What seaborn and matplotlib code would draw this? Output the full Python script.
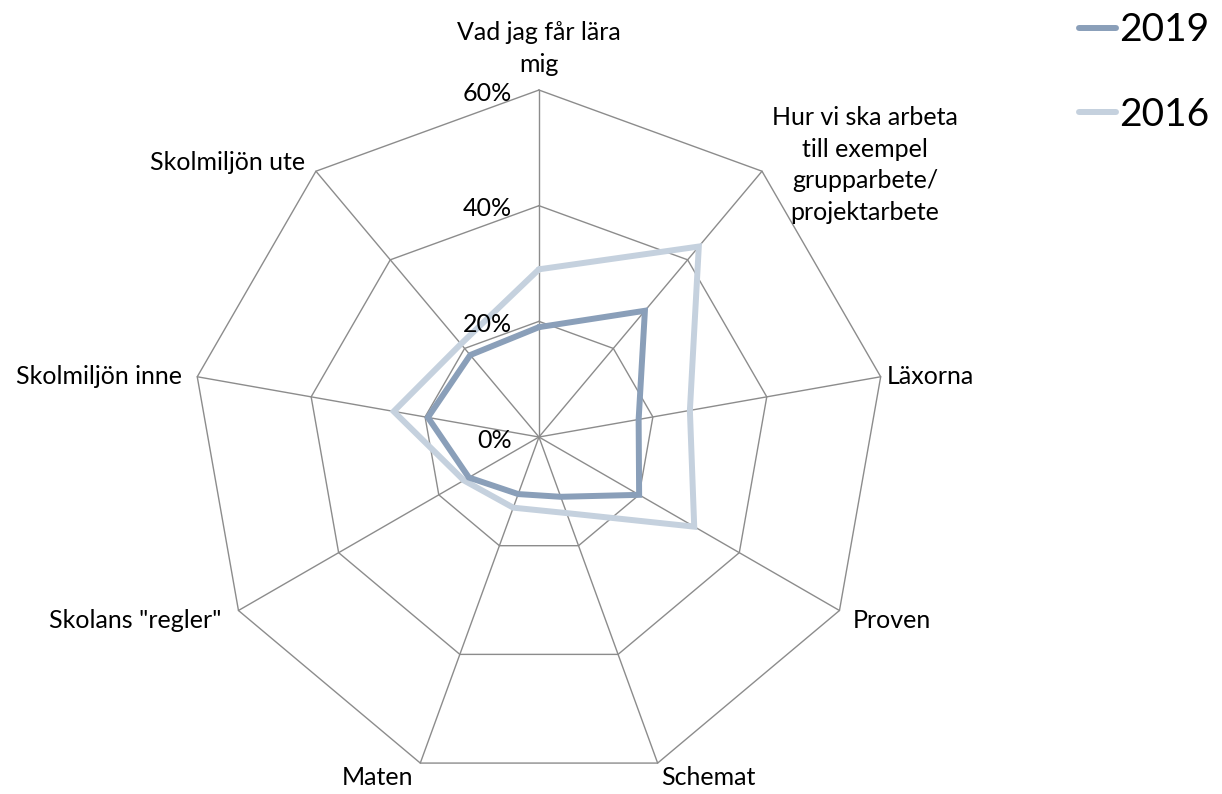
import numpy as np
import pandas as pd
import matplotlib
matplotlib.use("Agg")
import matplotlib.pyplot as plt
import seaborn as sns
from matplotlib.lines import Line2D

# chart data
categories = [
    "Vad jag får lära\nmig",
    "Hur vi ska arbeta\ntill exempel\ngrupparbete/\nprojektarbete",
    "Läxorna",
    "Proven",
    "Schemat",
    "Maten",
    'Skolans "regler"',
    "Skolmiljön inne",
    "Skolmiljön ute",
]
values_2019 = [19, 28.5, 17.5, 20, 11, 10.5, 14, 19.5, 18.5]
values_2016 = [29, 43, 26.5, 31, 14, 13, 15, 25.5, 21]
series_names = ["2019", "2016"]
ring_ticks = [0, 20, 40, 60]

# styling / layout
colors = {"2019": "#8a9fb9", "2016": "#c5d1de"}
grid_color = "#8c8c8c"
label_offsets = [
    ((0, 14), "center", "bottom"),
    ((10, 6), "left", "center"),
    ((6, 0), "left", "center"),
    ((13, -10), "left", "center"),
    ((4, -3), "left", "top"),
    ((-7, -3), "right", "top"),
    ((-17, -10), "right", "center"),
    ((-15, 0), "right", "center"),
    ((-11, 9), "right", "center"),
]

sns.set_theme(style="white")
plt.rcParams["font.family"] = ["Lato", "DejaVu Sans"]

n = len(categories)
theta = np.arange(n) * 2 * np.pi / n
rmax = ring_ticks[-1]


def to_xy(r):
    r = np.asarray(r, dtype=float)
    return r * np.sin(theta), r * np.cos(theta)


fig = plt.figure(figsize=(12.22, 7.94), dpi=100)
ax = fig.add_axes([0.1571, 0.0126, 0.5679, 0.874])
ax.set_xlim(-rmax, rmax)
ax.set_ylim(-rmax, rmax)
ax.axis("off")

# polygon rings and spokes
for t in ring_ticks[1:]:
    x, y = to_xy([t] * n)
    ax.plot(np.append(x, x[0]), np.append(y, y[0]), color=grid_color, lw=1.0, zorder=1, clip_on=False)
xo, yo = to_xy([rmax] * n)
for xi, yi in zip(xo, yo):
    ax.plot([0, xi], [0, yi], color=grid_color, lw=1.0, zorder=1, clip_on=False)

# data series (2016 below 2019)
rows = []
for name, vals in [("2016", values_2016), ("2019", values_2019)]:
    x, y = to_xy(vals)
    for i in range(n + 1):
        rows.append({"serie": name, "order": i, "x": x[i % n], "y": y[i % n]})
df = pd.DataFrame(rows)
for name in ["2016", "2019"]:
    sub = df[df["serie"] == name]
    sns.lineplot(data=sub, x="x", y="y", sort=False, estimator=None, color=colors[name],
                 lw=4.3, ax=ax, zorder=3, legend=False)
for line in ax.lines:
    line.set_clip_on(False)
    line.set_solid_joinstyle("miter")
ax.set_xlabel("")
ax.set_ylabel("")

# radial tick labels
for t in ring_ticks:
    ax.annotate(f"{t}%", xy=(0, t), xytext=(-27, -3), textcoords="offset pixels",
                ha="right", va="center", fontsize=18, color="black")

# category labels
for i, lab in enumerate(categories):
    (dx, dy), ha, va = label_offsets[i]
    ax.annotate(lab, xy=(xo[i], yo[i]), xytext=(dx, dy), textcoords="offset pixels",
                ha=ha, va=va, multialignment="center", fontsize=18, color="black",
                linespacing=1.45)

# legend
handles = [Line2D([0], [0], color=colors[s], lw=4.3, solid_capstyle="round") for s in series_names]
leg = fig.legend(handles, series_names, loc="upper left", bbox_to_anchor=(0.870, 1.004),
                 frameon=False, fontsize=28, handlelength=0.95, handletextpad=0.1,
                 labelspacing=1.25, borderaxespad=0)
for txt in leg.get_texts():
    txt.set_color("black")

fig.savefig("out.png", dpi=100)
